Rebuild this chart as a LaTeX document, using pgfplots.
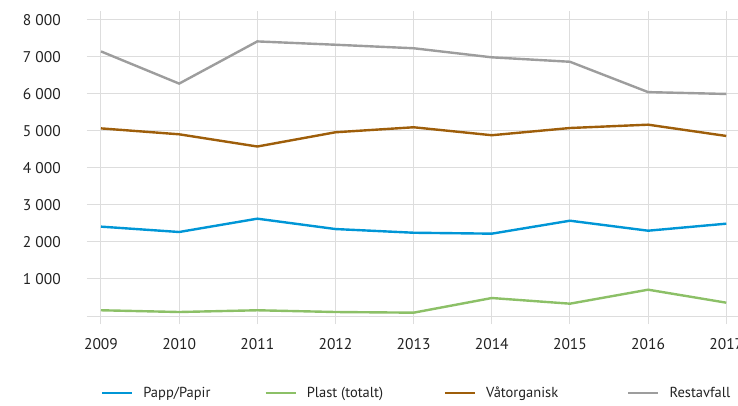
\documentclass[border=0pt]{standalone}
\usepackage{pgfplots}
\pgfplotsset{compat=1.18}
\usepackage{fontspec}
\setmainfont{PT Sans}
\definecolor{cpapp}{HTML}{0096D6}
\definecolor{cplast}{HTML}{8CC067}
\definecolor{cvat}{HTML}{9E5E0A}
\definecolor{crest}{HTML}{9D9D9D}
\definecolor{cgrid}{HTML}{DDDDDD}
\definecolor{ctext}{HTML}{222222}
\begin{document}
\begin{tikzpicture}
\begin{axis}[
  at={(0,0)}, anchor=south west,
  scale only axis, width=651bp, height=313.3bp,
  xmin=2008.821, xmax=2017.15, ymin=-216, ymax=8250,
  axis line style={draw=none}, tick style={draw=none},
  grid=major, major grid style={cgrid, line width=1bp},
  xtick={2009,2010,2011,2012,2013,2014,2015,2016,2017},
  xticklabels={2009,2010,2011,2012,2013,2014,2015,2016,2017},
  ytick={0,1000,2000,3000,4000,5000,6000,7000,8000},
  yticklabels={,1 000,2 000,3 000,4 000,5 000,6 000,7 000,8 000},
  tick label style={font=\fontsize{15.5bp}{18bp}\selectfont, text=ctext},
  yticklabel style={inner sep=0pt, anchor=east, xshift=-26bp},
  xticklabel style={inner sep=0pt, anchor=north, yshift=-14bp},
  legend columns=4,
  legend cell align=left,
  legend image code/.code={\draw[#1] (0bp,0bp) -- (30bp,0bp);},
  legend style={at={(axis description cs:0,0)}, anchor=west, xshift=14bp, yshift=-68.7bp,
    draw=none, fill=none, inner sep=0pt, outer sep=0pt,
    font=\fontsize{14.5bp}{17bp}\selectfont, text=ctext,
    nodes={inner sep=0pt},
    /tikz/every odd column/.append style={column sep=10bp},
    /tikz/every even column/.append style={column sep=0bp}},
  every axis plot/.append style={line width=2.4bp, mark=none},
]
\addplot[cpapp] coordinates {(2009,2415) (2010,2270) (2011,2630) (2012,2350) (2013,2250) (2014,2225) (2015,2575) (2016,2305) (2017,2495)};
\addlegendentry{\makebox[121bp][l]{Papp/Papir}}
\addplot[cplast] coordinates {(2009,155) (2010,108) (2011,155) (2012,108) (2013,90) (2014,486) (2015,333) (2016,711) (2017,360)};
\addlegendentry{\makebox[137bp][l]{Plast (totalt)}}
\addplot[cvat] coordinates {(2009,5070) (2010,4910) (2011,4580) (2012,4965) (2013,5100) (2014,4885) (2015,5080) (2016,5170) (2017,4865)};
\addlegendentry{\makebox[141bp][l]{Våtorganisk}}
\addplot[crest] coordinates {(2009,7150) (2010,6280) (2011,7420) (2012,7330) (2013,7235) (2014,6990) (2015,6870) (2016,6050) (2017,6000)};
\addlegendentry{Restavfall}
\end{axis}
\pgfresetboundingbox
\path (-87bp,-82bp) rectangle (651bp,324bp);
\end{tikzpicture}
\end{document}
